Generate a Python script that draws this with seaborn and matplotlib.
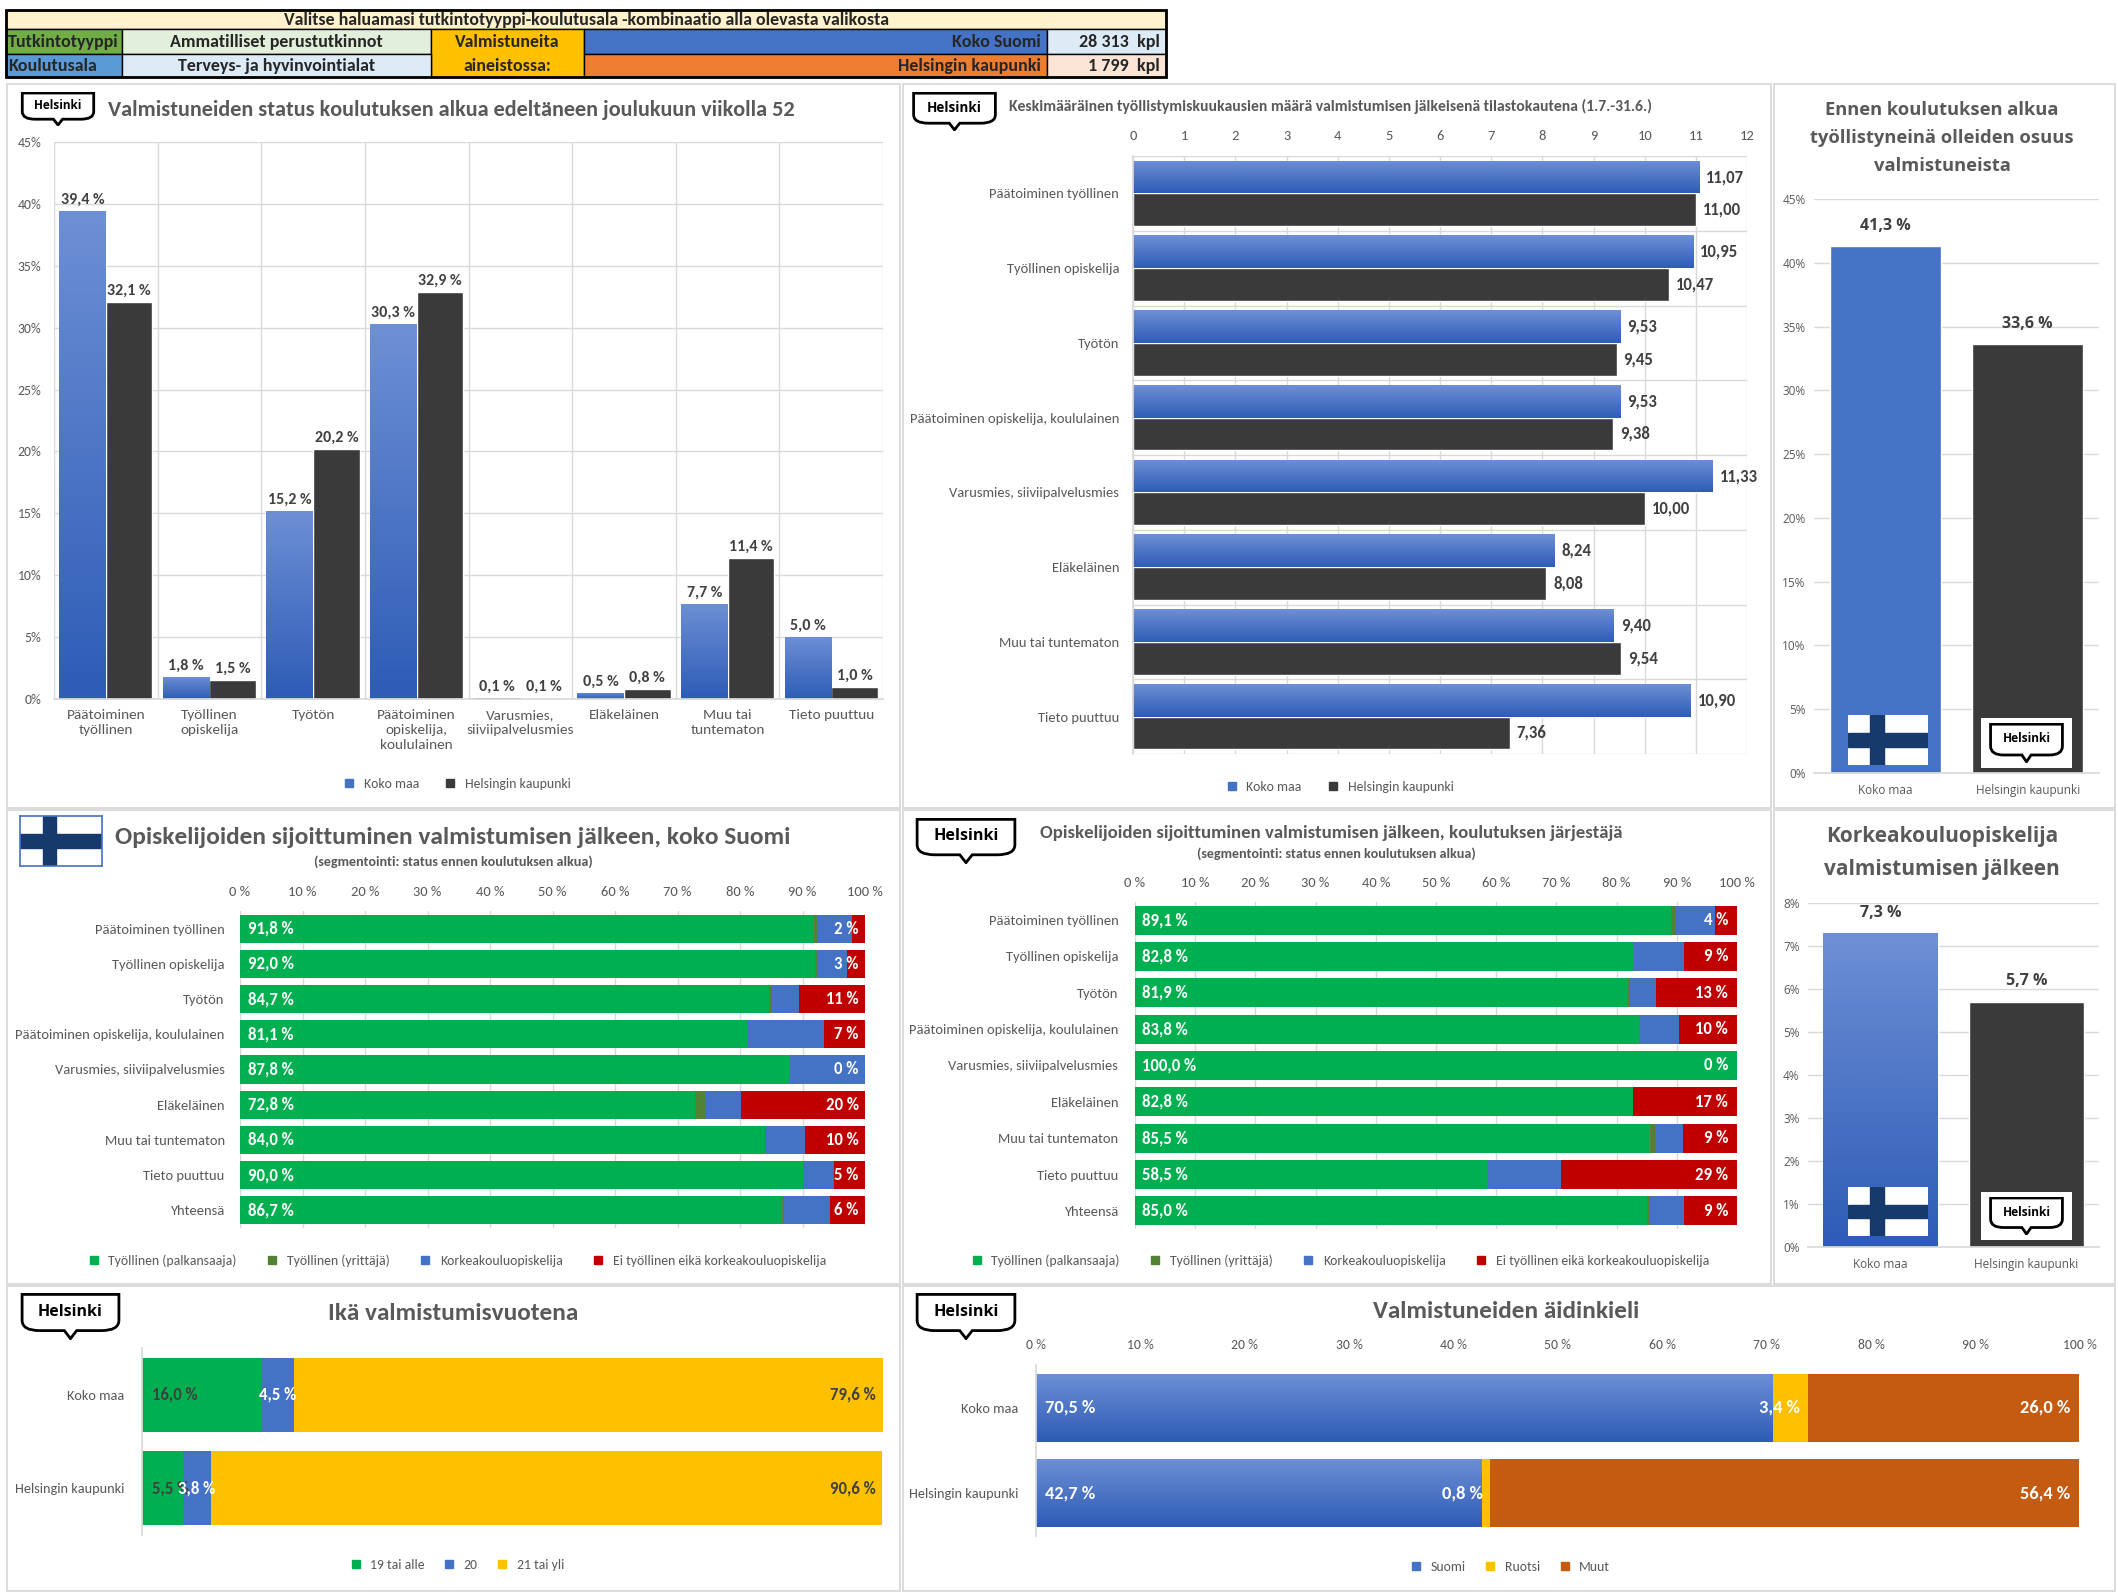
import numpy as np
import pandas as pd
import seaborn as sns
import matplotlib.pyplot as plt
import matplotlib.font_manager as fm
from matplotlib.patches import Rectangle, PathPatch
from matplotlib.path import Path
from matplotlib.lines import Line2D
from matplotlib.colors import LinearSegmentedColormap

# ---------------- data ----------------
groups = ['Koko maa', 'Helsingin kaupunki']

status_cats = ['Päätoiminen\ntyöllinen', 'Työllinen\nopiskelija', 'Työtön',
               'Päätoiminen\nopiskelija,\nkoululainen', 'Varusmies,\nsiiviipalvelusmies',
               'Eläkeläinen', 'Muu tai\ntuntematon', 'Tieto puuttuu']
status_koko = [39.4, 1.8, 15.2, 30.3, 0.1, 0.5, 7.7, 5.0]
status_hki = [32.1, 1.5, 20.2, 32.9, 0.1, 0.8, 11.4, 1.0]

months_cats = ['Päätoiminen työllinen', 'Työllinen opiskelija', 'Työtön',
               'Päätoiminen opiskelija, koululainen', 'Varusmies, siiviipalvelusmies',
               'Eläkeläinen', 'Muu tai tuntematon', 'Tieto puuttuu']
months_koko = [11.07, 10.95, 9.53, 9.53, 11.33, 8.24, 9.40, 10.90]
months_hki = [11.00, 10.47, 9.45, 9.38, 10.00, 8.08, 9.54, 7.36]

employed_before = [41.3, 33.6]
higher_ed_after = [7.3, 5.7]

place_cats = months_cats + ['Yhteensä']
place_series = ['Työllinen (palkansaaja)', 'Työllinen (yrittäjä)',
                'Korkeakouluopiskelija', 'Ei työllinen eikä korkeakouluopiskelija']
fi_palkansaaja = [91.8, 92.0, 84.7, 81.1, 87.8, 72.8, 84.0, 90.0, 86.7]
fi_yrittaja = [0.5, 0.3, 0.4, 0.1, 0.0, 1.6, 0.1, 0.0, 0.1]
fi_korkea = [5.6, 4.8, 4.3, 12.2, 12.2, 5.8, 6.3, 5.1, 7.6]
fi_ei = [2.1, 2.9, 10.6, 6.6, 0.0, 19.8, 9.6, 4.9, 5.6]

hki_palkansaaja = [89.1, 82.8, 81.9, 83.8, 100.0, 82.8, 85.5, 58.5, 85.0]
hki_yrittaja = [0.8, 0.0, 0.4, 0.0, 0.0, 0.0, 1.1, 0.0, 0.5]
hki_korkea = [6.4, 8.4, 4.3, 6.5, 0.0, 0.0, 4.5, 12.2, 5.7]
hki_ei = [3.7, 8.8, 13.4, 9.7, 0.0, 17.2, 8.9, 29.3, 8.8]

age_series = ['19 tai alle', '20', '21 tai yli']
age_19 = [16.0, 5.5]
age_20 = [4.5, 3.8]
age_21 = [79.6, 90.6]

lang_series = ['Suomi', 'Ruotsi', 'Muut']
lang_suomi = [70.5, 42.7]
lang_ruotsi = [3.4, 0.8]
lang_muut = [26.0, 56.4]

# header table (text cells)
header_title = 'Valitse haluamasi tutkintotyyppi-koulutusala -kombinaatio alla olevasta valikosta'
header_cells = [
    (6, 122, 29, 54, '#70AD47', 'Tutkintotyyppi', 'left'),
    (122, 431, 29, 54, '#E2EFDA', 'Ammatilliset perustutkinnot', 'center'),
    (431, 584, 29, 77, '#FFC000', '', 'center'),
    (584, 1047, 29, 54, '#4472C4', 'Koko Suomi', 'right'),
    (1047, 1166, 29, 54, '#DDEBF7', '28 313  kpl', 'right'),
    (6, 122, 54, 77, '#5B9BD5', 'Koulutusala', 'left'),
    (122, 431, 54, 77, '#DDEBF7', 'Terveys- ja hyvinvointialat', 'center'),
    (584, 1047, 54, 77, '#ED7D31', 'Helsingin kaupunki', 'right'),
    (1047, 1166, 54, 77, '#FCE4D6', '1 799  kpl', 'right'),
]

# ---------------- style ----------------
BLUE = '#4472C4'
DARK = '#3A3A3A'
GREEN = '#00B050'
DGREEN = '#548235'
RED = '#C00000'
YELLOW = '#FFC000'
ORANGE = '#C55A11'
GRAY = '#595959'
LABEL = '#404040'
GRID = '#D9D9D9'
FLAG_BLUE = '#163A6B'
grad_cmap = LinearSegmentedColormap.from_list('bluegrad', ['#6D8FD5', '#2E5CB6'])

sns.set_theme(style='white')
names = {f.name for f in fm.fontManager.ttflist}
NARROW, k = 'Liberation Sans', 1.0
for cand, scale in [('Carlito', 1.1), ('Liberation Sans Narrow', 1.18)]:
    if cand in names:
        NARROW, k = cand, scale
        break
WIDE = 'Open Sans'
plt.rcParams['font.family'] = [NARROW, 'DejaVu Sans']

W, H = 2118, 1594
fig = plt.figure(figsize=(W / 100, H / 100), dpi=100)
fig.patch.set_facecolor('white')


def rect(x0, y0, x1, y1):
    return [x0 / W, 1 - y1 / H, (x1 - x0) / W, (y1 - y0) / H]


def ftext(x, y, s, **kw):
    fig.text(x / W, 1 - y / H, s, **kw)


def pct(v, d=1):
    return f'{v:.{d}f} %'.replace('.', ',')


def add_gradient(ax, patches):
    grad = np.linspace(0, 1, 64).reshape(-1, 1)
    inv = ax.yaxis_inverted()
    for p in patches:
        x0, y0, w, h = p.get_x(), p.get_y(), p.get_width(), p.get_height()
        if w == 0 or h == 0:
            continue
        lo, hi = min(y0, y0 + h), max(y0, y0 + h)
        top, bot = (lo, hi) if inv else (hi, lo)
        im = ax.imshow(grad, cmap=grad_cmap, aspect='auto', origin='upper',
                       extent=(x0, x0 + w, bot, top), zorder=p.get_zorder() + 0.1,
                       interpolation='bilinear')
        im.set_clip_path(p)


def helsinki_logo(x0, y0, x1, y1, bg=None):
    if bg is not None:
        bax = fig.add_axes(rect(x0, y0, x1, y1))
        bax.set_facecolor(bg)
        bax.set_xticks([]); bax.set_yticks([])
        for s in bax.spines.values():
            s.set_visible(False)
        pw, ph = (x1 - x0) * 0.08, (y1 - y0) * 0.1
        x0, x1, y0, y1 = x0 + pw, x1 - pw, y0 + ph, y1 - ph
    ax = fig.add_axes(rect(x0, y0, x1, y1))
    ax.set_xlim(0, 1); ax.set_ylim(0, 1); ax.axis('off')
    verts = [(0.03, 0.97), (0.97, 0.97), (0.97, 0.42), (0.97, 0.2), (0.8, 0.2),
             (0.56, 0.2), (0.5, 0.03), (0.44, 0.2), (0.2, 0.2), (0.03, 0.2),
             (0.03, 0.42), (0, 0)]
    codes = [Path.MOVETO, Path.LINETO, Path.LINETO, Path.CURVE3, Path.CURVE3,
             Path.LINETO, Path.LINETO, Path.LINETO, Path.LINETO, Path.CURVE3,
             Path.CURVE3, Path.CLOSEPOLY]
    ax.add_patch(PathPatch(Path(verts, codes), facecolor='white', edgecolor='black', lw=2))
    ax.text(0.5, 0.6, 'Helsinki', ha='center', va='center', fontsize=(x1 - x0) * 0.112,
            family=WIDE, weight='bold', color='black')


def finnish_flag(x0, y0, x1, y1, border=None):
    ax = fig.add_axes(rect(x0, y0, x1, y1))
    ax.set_xlim(0, 18); ax.set_ylim(0, 11)
    ax.set_facecolor('white')
    ax.add_patch(Rectangle((5, 0), 3, 11, color=FLAG_BLUE))
    ax.add_patch(Rectangle((0, 4), 18, 3, color=FLAG_BLUE))
    ax.set_xticks([]); ax.set_yticks([])
    for s in ax.spines.values():
        s.set_visible(border is not None)
        if border is not None:
            s.set_color(border); s.set_linewidth(1.2)


def legend(x, y, labels, colors, spacing=1.2):
    handles = [Line2D([0], [0], marker='s', linestyle='none', markersize=6,
                      markerfacecolor=c, markeredgecolor=c) for c in colors]
    fig.legend(handles, labels, loc='center', bbox_to_anchor=(x / W, 1 - y / H),
               ncol=len(labels), frameon=False, fontsize=9 * k, handletextpad=0.05,
               columnspacing=spacing, labelcolor=GRAY)


def clean(ax, left=False, bottom=False):
    for name, s in ax.spines.items():
        s.set_visible(False)
    if left:
        ax.spines['left'].set_visible(True); ax.spines['left'].set_color(GRID)
    if bottom:
        ax.spines['bottom'].set_visible(True); ax.spines['bottom'].set_color(GRID)
    ax.tick_params(which='both', length=0, colors=GRAY)
    ax.set_xlabel(''); ax.set_ylabel('')
    ax.set_axisbelow(True)


def stacked(ax, cats, series, colors, width):
    cum = np.cumsum(np.array(series), axis=0)
    for i in reversed(range(len(series))):
        sns.barplot(x=cum[i], y=cats, orient='h', color=colors[i], width=width,
                    saturation=1, errorbar=None, linewidth=0, ax=ax, zorder=2)
    ax.set_ylim(len(cats) - 0.5, -0.5)
    ax.set_xlim(0, 100)
    return cum


# ---------------- panel frames ----------------
bg = fig.add_axes([0, 0, 1, 1])
bg.set_xlim(0, W); bg.set_ylim(H, 0); bg.axis('off')
for (x0, y0, x1, y1) in [(7, 84, 900, 808), (903, 84, 1771, 808), (1774, 84, 2115, 808),
                         (7, 810, 900, 1284), (903, 810, 1771, 1284), (1774, 810, 2115, 1284),
                         (7, 1286, 900, 1591), (903, 1286, 2115, 1591)]:
    bg.add_patch(Rectangle((x0, y0), x1 - x0, y1 - y0, fill=False, edgecolor=GRID, lw=1.3))

# header table
bg.add_patch(Rectangle((6, 10), 1160, 19, facecolor='#FFF2CC', edgecolor='black', lw=1))
bg.text(586, 19.5, header_title, ha='center', va='center', fontsize=11.7 * k, weight='bold')
for (x0, x1, y0, y1, col, txt, ha) in header_cells:
    bg.add_patch(Rectangle((x0, y0), x1 - x0, y1 - y0, facecolor=col, edgecolor='black', lw=1))
    tx = {'left': x0 + 2, 'center': (x0 + x1) / 2, 'right': x1 - 6}[ha]
    bg.text(tx, (y0 + y1) / 2, txt, ha=ha, va='center', fontsize=11.8 * k, weight='bold')
bg.text(507.5, 41.5, 'Valmistuneita', ha='center', va='center', fontsize=11.8 * k, weight='bold')
bg.text(507.5, 65.5, 'aineistossa:', ha='center', va='center', fontsize=11.8 * k, weight='bold')
bg.add_patch(Rectangle((6, 10), 1160, 67, fill=False, edgecolor='black', lw=2))

# ---------------- P1: status before training ----------------
ax1 = fig.add_axes(rect(54, 142, 883, 699))
df1 = pd.DataFrame({'cat': status_cats * 2, 'group': [groups[0]] * 8 + [groups[1]] * 8,
                    'val': status_koko + status_hki})
sns.barplot(data=df1, x='cat', y='val', hue='group', palette=[BLUE, DARK], width=0.9,
            saturation=1, errorbar=None, legend=False, ax=ax1, zorder=2)
ax1.set_xlim(-0.5, 7.5); ax1.set_ylim(0, 45)
ax1.set_yticks(range(0, 46, 5))
ax1.set_yticklabels([f'{t}%' for t in range(0, 46, 5)], fontsize=9 * k)
ax1.set_xticks(range(8))
ax1.set_xticklabels(status_cats, fontsize=10 * k, linespacing=1.3, va='top')
ax1.set_xticks(np.arange(-0.5, 8, 1), minor=True)
ax1.grid(axis='y', which='major', color=GRID, lw=1)
ax1.grid(axis='x', which='minor', color=GRID, lw=1)
clean(ax1, bottom=True)
ax1.tick_params(axis='y', pad=9); ax1.tick_params(axis='x', pad=7)
for c, vals in zip(ax1.containers, [status_koko, status_hki]):
    ax1.bar_label(c, labels=[pct(v) for v in vals], padding=3, fontsize=10.5 * k,
                  weight='bold', color=LABEL)
add_gradient(ax1, ax1.containers[0].patches)
ax1.set_xlim(-0.5, 7.5); ax1.set_ylim(0, 45)
helsinki_logo(20, 92, 96, 126)
ftext(108, 110, 'Valmistuneiden status koulutuksen alkua edeltäneen joulukuun viikolla 52',
      ha='left', va='center', fontsize=14.6 * k, weight='bold', color=GRAY)
legend(453, 784, groups, [BLUE, DARK], 1.3)

# ---------------- P2: employment months ----------------
ax2 = fig.add_axes(rect(1133, 156, 1747, 754))
df2 = pd.DataFrame({'cat': months_cats * 2, 'group': [groups[0]] * 8 + [groups[1]] * 8,
                    'val': months_koko + months_hki})
sns.barplot(data=df2, y='cat', x='val', hue='group', orient='h', palette=[BLUE, DARK],
            width=0.875, saturation=1, errorbar=None, legend=False, ax=ax2, zorder=2)
ax2.set_xlim(0, 12); ax2.set_ylim(7.5, -0.5)
ax2.xaxis.tick_top()
ax2.set_xticks(range(13))
ax2.set_xticklabels([str(t) for t in range(13)], fontsize=9.5 * k)
ax2.set_yticks(range(8))
ax2.set_yticklabels(months_cats, fontsize=9.5 * k)
ax2.set_yticks(np.arange(-0.5, 8, 1), minor=True)
ax2.grid(axis='x', which='major', color=GRID, lw=1)
ax2.grid(axis='y', which='minor', color=GRID, lw=1)
clean(ax2, left=True)
ax2.tick_params(axis='y', pad=10); ax2.tick_params(axis='x', pad=10)
for c, vals in zip(ax2.containers, [months_koko, months_hki]):
    ax2.bar_label(c, labels=[f'{v:.2f}'.replace('.', ',') for v in vals], padding=5,
                  fontsize=11 * k, weight='bold', color=LABEL)
add_gradient(ax2, ax2.containers[0].patches)
ax2.set_xlim(0, 12); ax2.set_ylim(7.5, -0.5)
helsinki_logo(911, 92, 998, 131)
ftext(1009, 106, 'Keskimääräinen työllistymiskuukausien määrä valmistumisen jälkeisenä '
      'tilastokautena (1.7.-31.6.)', ha='left', va='center', fontsize=10.2 * k,
      weight='bold', color=GRAY)
legend(1336, 787, groups, [BLUE, DARK], 1.3)

# ---------------- P3: employed before training ----------------
ax3 = fig.add_axes(rect(1814, 199, 2099, 773))
sns.barplot(x=groups, y=employed_before, hue=groups, palette=[BLUE, DARK], width=0.78,
            saturation=1, errorbar=None, legend=False, ax=ax3, zorder=2)
ax3.set_ylim(0, 45); ax3.set_xlim(-0.5, 1.5)
ax3.set_yticks(range(0, 46, 5))
ax3.set_yticklabels([f'{t}%' for t in range(0, 46, 5)], fontsize=8.5, family=WIDE)
ax3.set_xticks([0, 1])
ax3.set_xticklabels(groups, fontsize=8.5, family=WIDE)
ax3.grid(axis='y', color=GRID, lw=1)
clean(ax3, bottom=True)
ax3.tick_params(axis='y', pad=6); ax3.tick_params(axis='x', pad=8)
for c, v in zip(ax3.containers, employed_before):
    ax3.bar_label(c, labels=[pct(v)], padding=9, fontsize=11.5, family=WIDE,
                  weight='bold', color=LABEL)
ftext(1942, 138, 'Ennen koulutuksen alkua\ntyöllistyneinä olleiden osuus\nvalmistuneista',
      ha='center', va='center', fontsize=13.2, family=WIDE, weight='bold', color=GRAY,
      linespacing=1.72)
finnish_flag(1848, 715, 1928, 765)
helsinki_logo(1981, 718, 2072, 768, bg='white')

# ---------------- P4: placement, whole Finland ----------------
ax4 = fig.add_axes(rect(240, 911, 865, 1228))
fi_series = [fi_palkansaaja, fi_yrittaja, fi_korkea, fi_ei]
stacked(ax4, place_cats, fi_series, [GREEN, DGREEN, BLUE, RED], 0.8)
ax4.xaxis.tick_top()
ax4.set_xticks(range(0, 101, 10))
ax4.set_xticklabels([f'{t} %' for t in range(0, 101, 10)], fontsize=9.5 * k)
ax4.set_yticks(range(len(place_cats)))
ax4.set_yticklabels(place_cats, fontsize=9.5 * k)
ax4.grid(axis='x', color=GRID, lw=1)
clean(ax4)
ax4.tick_params(axis='y', pad=11); ax4.tick_params(axis='x', pad=9)
for j in range(len(place_cats)):
    ax4.text(1.2, j, pct(fi_palkansaaja[j]), ha='left', va='center', color='white',
             fontsize=11 * k, weight='bold', zorder=5)
    ax4.text(99, j, pct(fi_ei[j], 0), ha='right', va='center', color='white',
             fontsize=11 * k, weight='bold', zorder=5)
finnish_flag(20, 816, 102, 866, border=BLUE)
ftext(115, 838, 'Opiskelijoiden sijoittuminen valmistumisen jälkeen, koko Suomi',
      ha='left', va='center', fontsize=16.6 * k, weight='bold', color=GRAY)
ftext(453, 862, '(segmentointi: status ennen koulutuksen alkua)', ha='center', va='center',
      fontsize=9.2 * k, weight='bold', color=GRAY)
legend(453, 1261, place_series, [GREEN, DGREEN, BLUE, RED], 1.6)

# ---------------- P5: placement, Helsinki ----------------
ax5 = fig.add_axes(rect(1135, 902, 1737, 1229))
hki_series = [hki_palkansaaja, hki_yrittaja, hki_korkea, hki_ei]
stacked(ax5, place_cats, hki_series, [GREEN, DGREEN, BLUE, RED], 0.8)
ax5.xaxis.tick_top()
ax5.set_xticks(range(0, 101, 10))
ax5.set_xticklabels([f'{t} %' for t in range(0, 101, 10)], fontsize=9.5 * k)
ax5.set_yticks(range(len(place_cats)))
ax5.set_yticklabels(place_cats, fontsize=9.5 * k)
ax5.grid(axis='x', color=GRID, lw=1)
clean(ax5)
ax5.tick_params(axis='y', pad=12); ax5.tick_params(axis='x', pad=9)
for j in range(len(place_cats)):
    ax5.text(1.2, j, pct(hki_palkansaaja[j]), ha='left', va='center', color='white',
             fontsize=11 * k, weight='bold', zorder=5)
    ax5.text(98.5, j, pct(hki_ei[j], 0), ha='right', va='center', color='white',
             fontsize=11 * k, weight='bold', zorder=5)
helsinki_logo(914, 818, 1018, 864)
ftext(1040, 833, 'Opiskelijoiden sijoittuminen valmistumisen jälkeen, koulutuksen järjestäjä',
      ha='left', va='center', fontsize=12.3 * k, weight='bold', color=GRAY)
ftext(1336, 854, '(segmentointi: status ennen koulutuksen alkua)', ha='center', va='center',
      fontsize=9.2 * k, weight='bold', color=GRAY)
legend(1336, 1261, place_series, [GREEN, DGREEN, BLUE, RED], 1.6)

# ---------------- P6: higher education after graduation ----------------
ax6 = fig.add_axes(rect(1808, 903, 2099, 1247))
sns.barplot(x=groups, y=higher_ed_after, hue=groups, palette=[BLUE, DARK], width=0.79,
            saturation=1, errorbar=None, legend=False, ax=ax6, zorder=2)
ax6.set_ylim(0, 8); ax6.set_xlim(-0.5, 1.5)
ax6.set_yticks(range(0, 9))
ax6.set_yticklabels([f'{t}%' for t in range(0, 9)], fontsize=8.5, family=WIDE)
ax6.set_xticks([0, 1])
ax6.set_xticklabels(groups, fontsize=8.5, family=WIDE)
ax6.grid(axis='y', color=GRID, lw=1)
clean(ax6, bottom=True)
ax6.tick_params(axis='y', pad=6); ax6.tick_params(axis='x', pad=8)
for c, v in zip(ax6.containers, higher_ed_after):
    ax6.bar_label(c, labels=[pct(v)], padding=9, fontsize=11.5, family=WIDE,
                  weight='bold', color=LABEL)
add_gradient(ax6, ax6.containers[0].patches)
ax6.set_ylim(0, 8); ax6.set_xlim(-0.5, 1.5)
ftext(1942, 853, 'Korkeakouluopiskelija\nvalmistumisen jälkeen', ha='center', va='center',
      fontsize=15, family=WIDE, weight='bold', color=GRAY, linespacing=1.72)
finnish_flag(1848, 1187, 1928, 1236)
helsinki_logo(1981, 1192, 2072, 1240, bg='white')

# ---------------- P7: age ----------------
ax7 = fig.add_axes(rect(142, 1348, 883, 1535))
age_cum = stacked(ax7, groups, [age_19, age_20, age_21], [GREEN, BLUE, YELLOW], 0.79)
ax7.set_xticks([])
ax7.set_yticks([0, 1])
ax7.set_yticklabels(groups, fontsize=9.3 * k)
clean(ax7, left=True)
ax7.tick_params(axis='y', pad=13)
for j in range(len(groups)):
    ax7.text(1.3, j, pct(age_19[j]), ha='left', va='center', color=LABEL,
             fontsize=11 * k, weight='bold', zorder=5)
    ax7.text(age_cum[0][j] + age_20[j] / 2, j, pct(age_20[j]), ha='center', va='center',
             color='white', fontsize=11 * k, weight='bold', zorder=6)
    ax7.text(99, j, pct(age_21[j]), ha='right', va='center', color=LABEL,
             fontsize=11 * k, weight='bold', zorder=5)
helsinki_logo(19, 1293, 122, 1340)
ftext(453, 1313, 'Ikä valmistumisvuotena', ha='center', va='center', fontsize=16.5 * k,
      weight='bold', color=GRAY)
legend(453, 1565, age_series, [GREEN, BLUE, YELLOW], 0.8)

# ---------------- P8: mother tongue ----------------
ax8 = fig.add_axes(rect(1036, 1365, 2080, 1536))
lang_cum = stacked(ax8, groups, [lang_suomi, lang_ruotsi, lang_muut], [BLUE, YELLOW, ORANGE], 0.8)
add_gradient(ax8, ax8.containers[-1].patches)
ax8.set_xlim(0, 100); ax8.set_ylim(1.5, -0.5)
ax8.xaxis.tick_top()
ax8.set_xticks(range(0, 101, 10))
ax8.set_xticklabels([f'{t} %' for t in range(0, 101, 10)], fontsize=9 * k)
ax8.set_yticks([0, 1])
ax8.set_yticklabels(groups, fontsize=9.3 * k)
clean(ax8, left=True)
ax8.tick_params(axis='y', pad=13); ax8.tick_params(axis='x', pad=10)
for j in range(len(groups)):
    ax8.text(0.9, j, pct(lang_suomi[j]), ha='left', va='center', color='white',
             fontsize=12 * k, weight='bold', zorder=5)
    ax8.text(lang_cum[1][j] - 0.7, j, pct(lang_ruotsi[j]), ha='right', va='center',
             color='white', fontsize=12 * k, weight='bold', zorder=5)
    ax8.text(99.1, j, pct(lang_muut[j]), ha='right', va='center', color='white',
             fontsize=12 * k, weight='bold', zorder=5)
helsinki_logo(914, 1293, 1018, 1340)
ftext(1506, 1312, 'Valmistuneiden äidinkieli', ha='center', va='center', fontsize=16.5 * k,
      weight='bold', color=GRAY)
legend(1506, 1567, lang_series, [BLUE, YELLOW, ORANGE], 0.8)

fig.savefig('out.png', dpi=100, facecolor='white')
